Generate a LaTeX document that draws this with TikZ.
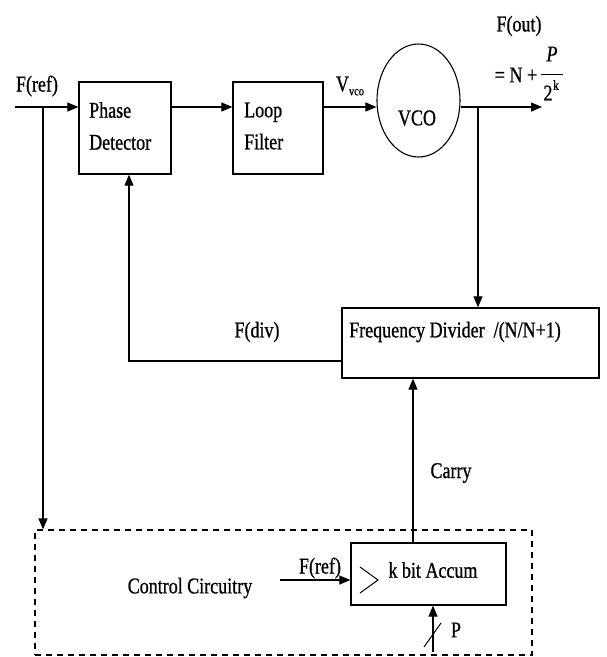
\documentclass[tikz,border=0pt]{standalone}
\usepackage{fontspec}
\setmainfont[FakeStretch=0.8, UprightFeatures={FakeBold=0.8}, ItalicFeatures={FakeBold=0.8}]{Liberation Serif}
\usetikzlibrary{arrows.meta,shapes.geometric}
\tikzset{
  box/.style={draw, line width=1.3pt, inner sep=0pt},
  lbl/.style={inner sep=0pt, font=\fontsize{22.5}{32}\selectfont},
  wire/.style={line width=1.2pt},
  arr/.style={wire, -{Triangle[length=11pt,width=9pt]}},
  dashbox/.style={draw, line width=1.2pt, dash pattern=on 6pt off 5pt, inner sep=0pt}
}
\begin{document}
\begin{tikzpicture}[x=1pt,y=-1pt]
\useasboundingbox (0,0) rectangle (607,657);
% blocks
\node[box, minimum width=92pt, minimum height=92pt] (pd) at (125,128) {};
\node[lbl, anchor=west, align=left] (pdt) at (89,126) {Phase\\Detector};
\node[box, minimum width=90pt, minimum height=92pt] (lf) at (278,128) {};
\node[lbl, anchor=west, align=left] (lft) at (244,126) {Loop\\Filter};
\node[draw, ellipse, line width=1.1pt, minimum width=83pt, minimum height=113pt, inner sep=0pt] (vco) at (418.5,100.5) {};
\node[lbl] (vcot) at (417,118) {VCO};
\node[box, minimum width=257pt, minimum height=70pt] (fd) at (470.5,343) {};
\node[lbl, anchor=west] (fdt) at (349,332) {Frequency Divider\ \ /(N/N+1)};
\node[dashbox, minimum width=497pt, minimum height=125pt] (ctrl) at (283.5,592.5) {};
\node[box, minimum width=155pt, minimum height=62pt] (acc) at (428.5,574) {};
\node[lbl] (acct) at (433,570) {k bit Accum};
\node[lbl] (ctrlt) at (190,588) {Control Circuitry};
% labels
\node[lbl] (fref) at (37,86) {F(ref)};
\node[lbl] (vvco) at (350,86) {V\raisebox{-4pt}{\fontsize{13}{13}\selectfont vco}};
\node[lbl] (fout) at (519,26) {F(out)};
\node[lbl] (eqn) at (516,75) {= N +};
\node[lbl] (pnum) at (552,54) {\itshape P};
\node[lbl] (twok) at (548,93) {2};
\node[inner sep=0pt, font=\fontsize{14}{14}\selectfont] (kexp) at (556,85) {k};
\node[lbl] (fdiv) at (257,332) {F(div)};
\node[lbl] (carry) at (451,473) {Carry};
\node[lbl] (fref2) at (320,568) {F(ref)};
\node[lbl] (plbl) at (456,630) {P};
% coordinates
\coordinate (fin) at (15,107);
\coordinate (b1) at (43,107);
\coordinate (b2) at (478,107);
\coordinate (foutc) at (542,107);
\coordinate (fdc) at (129,361);
\coordinate (cx) at (413,460);
\coordinate (fr2) at (280,580);
\coordinate (pin) at (433,652);
\coordinate (sl1) at (424,647);
\coordinate (sl2) at (441,623);
\coordinate (ck1) at (360,567);
\coordinate (ck2) at (378,580);
\coordinate (ck3) at (360,593);
\coordinate (fl1) at (541,74);
\coordinate (fl2) at (563,74);
% connectors
\draw[arr] (fin) -- (pd.west |- fin);
\draw[arr] (b1) -- (b1 |- ctrl.north);
\draw[arr] (pd.east |- fin) -- (lf.west |- fin);
\draw[arr] (lf.east |- fin) -- (vco.west |- fin);
\draw[arr] (vco.east |- fin) -- (foutc);
\draw[arr] (b2) -- (b2 |- fd.north);
\draw[arr] (fd.west |- fdc) -- (fdc) -- (fdc |- pd.south);
\draw[arr] (cx |- acc.north) -- (cx |- fd.south);
\draw[arr] (fr2) -- (acc.west |- fr2);
\draw[arr] (pin) -- (pin |- acc.south);
\draw[wire, line width=1pt] (sl1) -- (sl2);
\draw[wire, line width=1pt] (ck1) -- (ck2) -- (ck3);
\draw[line width=0.9pt] (fl1) -- (fl2);
\end{tikzpicture}
\end{document}
